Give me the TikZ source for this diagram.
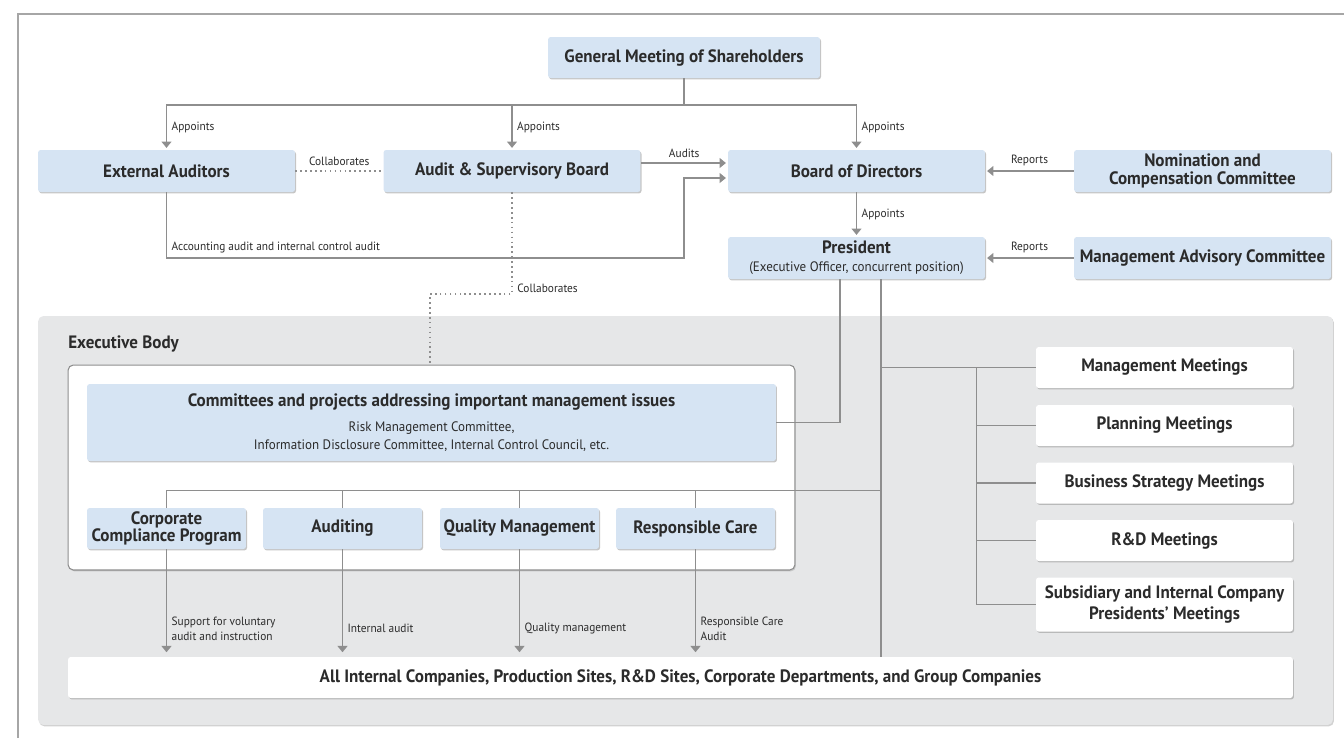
\documentclass[tikz,border=0pt]{standalone}
\usepackage{fontspec}
\setmainfont{PT Sans}[FakeStretch=0.95]
\usetikzlibrary{positioning, arrows.meta, shadows}

\definecolor{boxblue}{HTML}{D6E4F3}
\definecolor{execgray}{HTML}{E6E7E8}
\definecolor{linegray}{HTML}{8E8E8E}
\definecolor{txtgray}{HTML}{2B2B2B}

\newcommand{\subtext}{\mdseries\fontsize{7.8}{10.2}\selectfont}

\tikzset{
  orgbox/.style={fill=boxblue, rounded corners=1.5pt, inner sep=0pt, align=center,
    text=txtgray, font=\bfseries\fontsize{10.2}{10.2}\selectfont,
    minimum width=5.14cm, minimum height=0.84cm,
    drop shadow={shadow xshift=0.6pt, shadow yshift=-0.8pt, opacity=0.5, fill=black!45}},
  meetbox/.style={orgbox, fill=white, minimum height=0.82cm},
  unitbox/.style={orgbox, minimum width=3.18cm, minimum height=0.82cm},
  conn/.style={draw=linegray, line width=0.85pt},
  arr/.style={conn, -{Triangle[width=5.6pt, length=3.6pt]}, shorten >=1pt},
  dots/.style={draw=linegray, line width=1.1pt, dash pattern=on 0.9pt off 1.9pt},
  lbl/.style={text=txtgray, font=\fontsize{6.8}{8.6}\selectfont, inner sep=2.5pt},
}

\begin{document}
\begin{tikzpicture}[x=0.02cm, y=-0.02cm]
\useasboundingbox (0,0) rectangle (1344,738);
% page frame
\draw[draw=gray!70, line width=0.85pt] (18,738) -- (18,14) -- (1344,14);

% executive body area
\node[fill=execgray, rounded corners=3pt, minimum width=25.9cm, minimum height=8.18cm,
  drop shadow={shadow xshift=0.6pt, shadow yshift=-0.8pt, opacity=0.5, fill=black!35}] (exec) at (685.5,520.5) {};
\node[anchor=west, inner sep=0pt, text=txtgray, font=\bfseries\fontsize{10.2}{10.2}\selectfont] (execlbl) at (68,344) {Executive Body};
\node[fill=white, draw=linegray, line width=0.6pt, rounded corners=3pt, minimum width=14.54cm, minimum height=4.1cm,
  drop shadow={shadow xshift=0.6pt, shadow yshift=-0.8pt, opacity=0.5, fill=black!35}] (inner) at (431.5,467.5) {};

% governance boxes
\node[orgbox, minimum width=5.44cm, minimum height=0.82cm] (gms) at (684,57.5) {General Meeting of Shareholders};
\node[orgbox] (ext) at (166.5,171) {External Auditors};
\node[orgbox] (asb) at (512,171) {Audit \& Supervisory Board};
\node[orgbox] (bod) at (856.5,171) {Board of Directors};
\node[orgbox] (ncc) at (1202.5,171) {Nomination and\\Compensation Committee};
\node[orgbox] (pres) at (856.5,258) {President\\\subtext(Executive Officer, concurrent position)};
\node[orgbox] (mac) at (1202.5,258) {Management Advisory Committee};

% committees and functions
\node[orgbox, minimum width=13.78cm, minimum height=1.54cm] (cmt) at (431.5,422.5)
  {Committees and projects addressing important management issues\\[4pt]
   \subtext Risk Management Committee,\\\subtext Information Disclosure Committee, Internal Control Council, etc.};
\node[unitbox] (ccp) at (166.5,528.5) {Corporate\\Compliance Program};
\node[unitbox] (aud) at (342.5,528.5) {Auditing};
\node[unitbox] (qm) at (519.5,528.5) {Quality Management};
\node[unitbox] (rc) at (695.5,528.5) {Responsible Care};

% meetings
\node[meetbox] (mm) at (1164.5,367.5) {Management Meetings};
\node[meetbox] (pm) at (1164.5,425.5) {Planning Meetings};
\node[meetbox] (bsm) at (1164.5,483) {Business Strategy Meetings};
\node[meetbox] (rd) at (1164.5,540.5) {R\&D Meetings};
\node[meetbox, minimum height=1.08cm] (sic) at (1164.5,604.5) {Subsidiary and Internal Company\\[2pt]Presidents’ Meetings};

\node[meetbox, minimum width=24.5cm] (bottom) at (680.5,677.5)
  {All Internal Companies, Production Sites, R\&D Sites, Corporate Departments, and Group Companies};

% appointments
\coordinate (split) at (684,105);
\draw[conn] (gms) -- (split);
\foreach \b in {ext, asb, bod}
  \draw[arr] (split) -| node[lbl, pos=0.75, right]{Appoints} (\b.north);
\draw[arr] (bod) -- node[lbl, right]{Appoints} (pres);

% audits and collaboration
\draw[dots] (ext) -- node[lbl, above]{Collaborates} (asb);
\draw[arr] ([yshift=0.16cm]asb.east) -- node[lbl, above]{Audits} ([yshift=0.16cm]bod.west);
\coordinate (accturn) at (684,258);
\draw[arr] (ext) |- node[lbl, pos=0.5, above right]{Accounting audit and internal control audit} (accturn)
  |- ([yshift=-0.14cm]bod.west);
\coordinate (collturn) at (430,294);
\draw[dots] (asb) |- node[lbl, pos=0.47, right]{Collaborates} (collturn) -- (collturn |- inner.north);

% reports
\draw[arr] (ncc) -- node[lbl, above]{Reports} (bod);
\draw[arr] (mac) -- node[lbl, above]{Reports} (pres);

% president to executive body
\draw[conn] (cmt.east) -| ([xshift=-0.33cm]pres.south);
\coordinate (trunk) at ([xshift=0.49cm]pres.south);
\draw[conn] (trunk) -- (trunk |- bottom.north);

\coordinate (mcomb) at ([xshift=-1.18cm]mm.west);
\draw[conn] (trunk |- mm) -- (mm.west);
\draw[conn] (mcomb) |- (sic.west);
\foreach \m in {pm, bsm, rd}
  \draw[conn] (mcomb |- \m) -- (\m.west);

\coordinate (bcomb) at ([yshift=0.34cm]ccp.north);
\draw[conn] (trunk |- bcomb) -- (bcomb) -- (ccp.north);
\foreach \b in {aud, qm, rc}
  \draw[conn] (\b.north |- bcomb) -- (\b.north);

% down to the companies
\draw[arr, shorten >=2.5pt] (ccp) -- node[lbl, pos=0.74, right, align=left]{Support for voluntary\\audit and instruction} (ccp |- bottom.north);
\draw[arr, shorten >=2.5pt] (aud) -- node[lbl, pos=0.74, right]{Internal audit} (aud |- bottom.north);
\draw[arr, shorten >=2.5pt] (qm) -- node[lbl, pos=0.74, right]{Quality management} (qm |- bottom.north);
\draw[arr, shorten >=2.5pt] (rc) -- node[lbl, pos=0.74, right, align=left]{Responsible Care\\Audit} (rc |- bottom.north);
\end{tikzpicture}
\end{document}
